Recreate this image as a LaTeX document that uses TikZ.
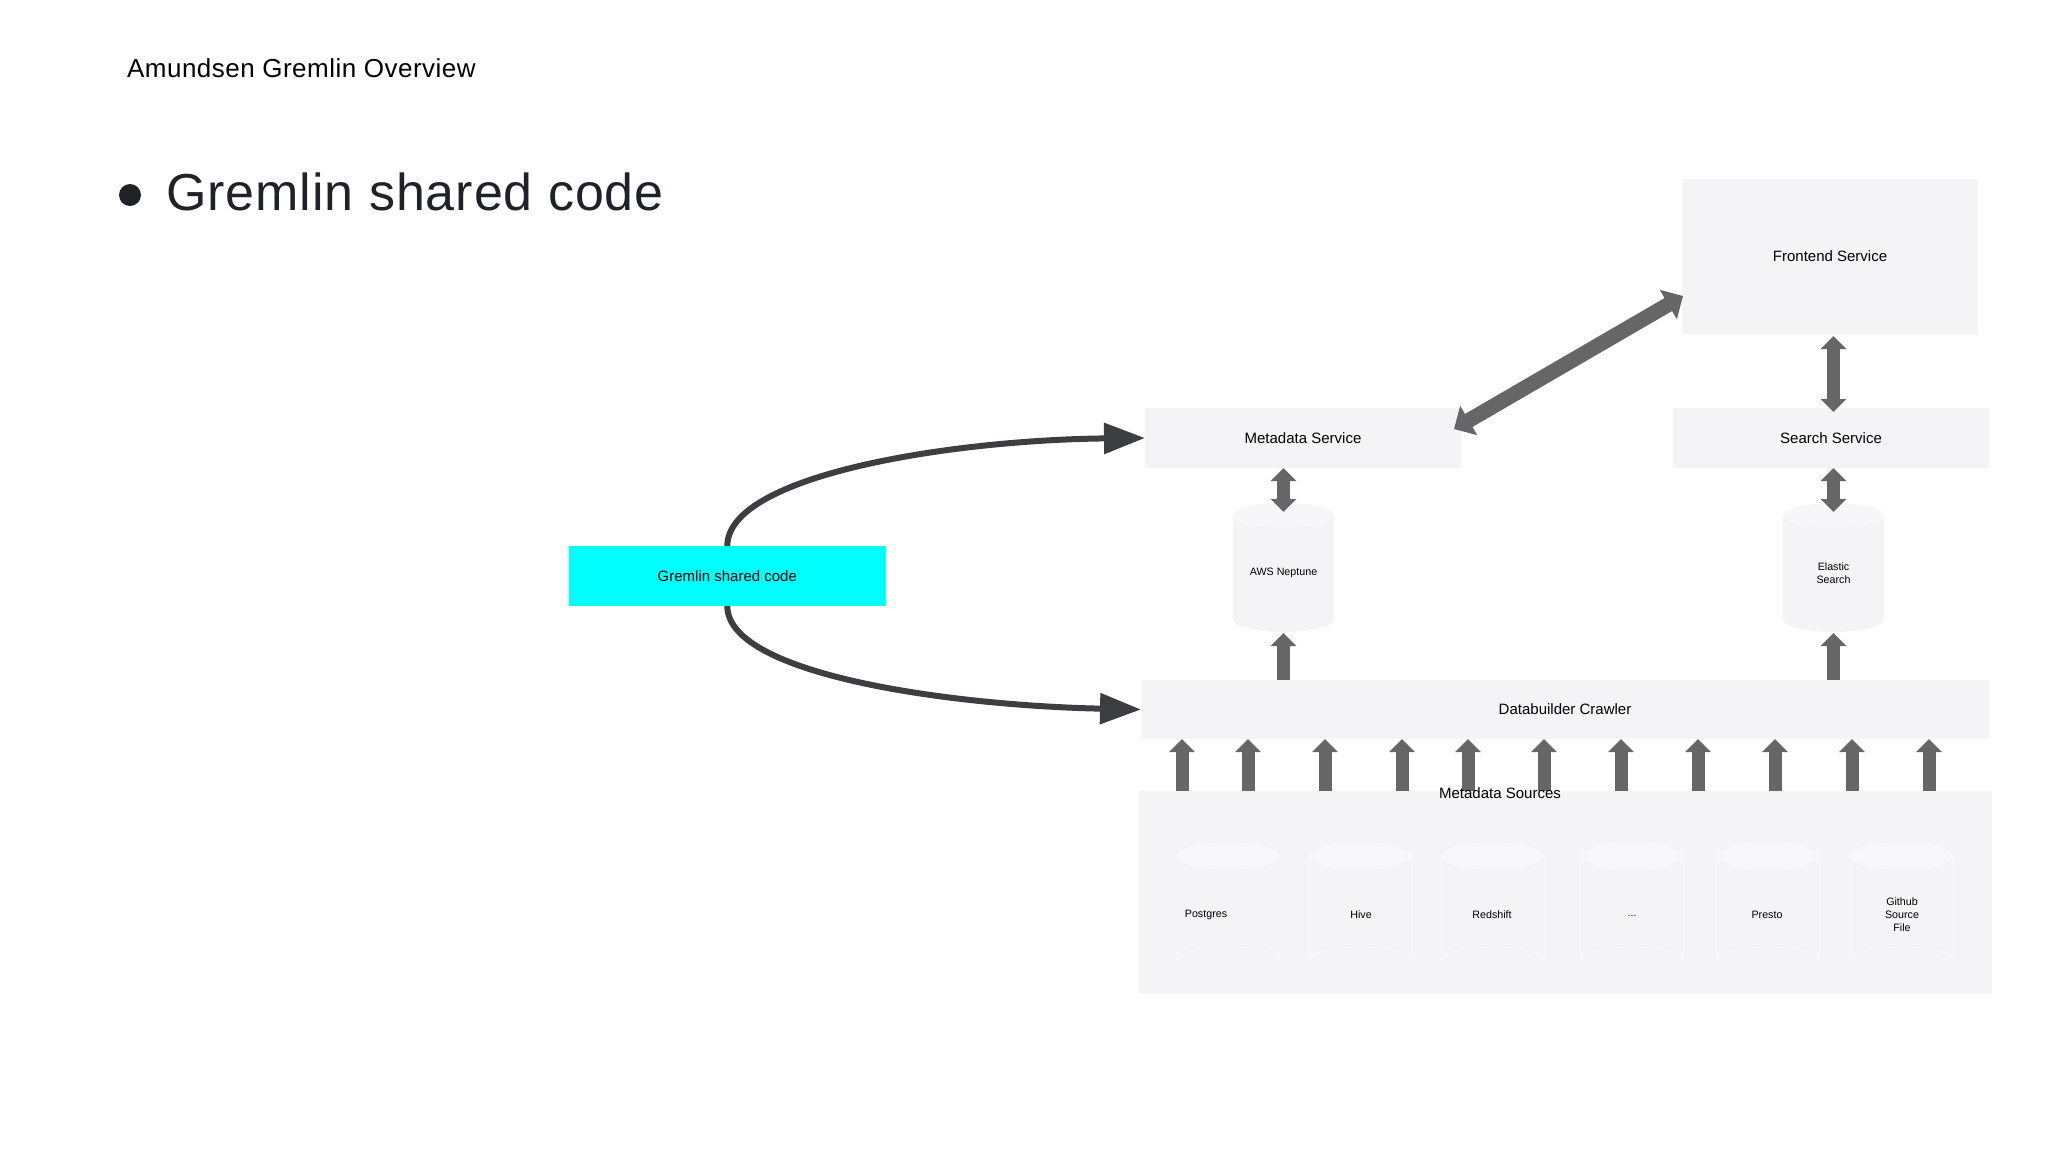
\documentclass[tikz,border=0pt]{standalone}
\usepackage{fontspec}
\setmainfont{Liberation Sans}
\newfontfamily\headfont[LetterSpace=1.8]{Liberation Sans}
\usetikzlibrary{shapes, arrows.meta}
\definecolor{boxgray}{HTML}{F4F4F6}
\definecolor{sourcegray}{HTML}{F4F3F6}
\definecolor{capgray}{HTML}{F8F7F9}
\definecolor{edgegray}{HTML}{F9F9FA}
\definecolor{arrowgray}{HTML}{666568}
\definecolor{curvegray}{HTML}{3D3E42}
\definecolor{inkblack}{HTML}{1F2328}
\definecolor{sharedcyan}{HTML}{00FFFF}
\newcommand{\labelsize}{\fontsize{15}{18}\selectfont}
\newcommand{\smallsize}{\fontsize{10.7}{13}\selectfont}

\begin{document}
\begin{tikzpicture}[x=1pt, y=-1pt, >={Triangle[length=13pt,width=25pt]}]

\tikzstyle{block} = [fill=boxgray, shape=rectangle, inner sep=0pt, outer sep=0pt, font=\labelsize]
\tikzstyle{store} = [block, minimum width=101pt, minimum height=104pt]
\tikzstyle{source} = [block, fill=sourcegray, minimum width=103pt, minimum height=105pt]
\tikzstyle{tag} = [font=\smallsize, align=center, inner sep=0pt]
\tikzstyle{curve} = [line width=6pt, color=curvegray, -{Triangle[length=41pt,width=30pt]}]

\useasboundingbox (0,0) rectangle (2048,1152);

\node [anchor=base west, inner sep=0pt, font=\headfont\fontsize{26}{30}\selectfont] at (127,77) (title) {Amundsen Gremlin Overview};
\node [fill=inkblack, shape=circle, minimum size=22pt, inner sep=0pt] at (130,195) (bullet) {};
\node [anchor=base west, inner sep=0pt, text=inkblack, font=\headfont\fontsize{52}{60}\selectfont] at (166,210) (heading) {Gremlin shared code};

\node [block, minimum width=296pt, minimum height=155pt] at (1830,256.5) (frontend) {Frontend Service};
\node [block, minimum width=316pt, minimum height=60pt] at (1303,438) (metadata) {Metadata Service};
\node [block, minimum width=316pt, minimum height=60pt] at (1831,438) (search) {Search Service};
\node [block, minimum width=848pt, minimum height=59pt] at (1565,709.5) (crawler) {Databuilder Crawler};
\node [block, minimum width=317pt, minimum height=60pt, fill=sharedcyan] at (727.3,576) (gremlin) {Gremlin shared code};
\node [block, fill=sourcegray, minimum width=853pt, minimum height=203pt] at (1565.5,892.5) (sources) {};

\foreach \name/\px in {neptune/1283.5, elastic/1833.5} {
     \node [store] at (\px,567.5) (\name) {};
     \fill[boxgray] (\name.south) ellipse (50.5 and 12.5);
     \fill[capgray!70!boxgray] (\name.north) ellipse (50.5 and 12.5);
}
\node [tag] at (1283.5,573) (neptunelabel) {AWS Neptune};
\node [tag] at (1833.5,573.5) (elasticlabel) {Elastic\\Search};

\foreach \name/\px in {postgres/1228.5, hive/1361, redshift/1493, dots/1632, presto/1768, github/1902} {
     \node [source] at (\px,908.5) (\name) {};
     \draw[edgegray, line width=0.8pt] (\name.north west) -- (\name.south west) arc (180:360:51.5 and 14) -- (\name.north east);
     \fill[capgray] (\name.north) ellipse (51.5 and 14);
}
\node [tag] at (1206,915) (postgreslabel) {Postgres};
\node [tag] at (1361,915) (hivelabel) {Hive};
\node [tag] at (1492,915) (redshiftlabel) {Redshift};
\node [tag] at (1632,916) (dotslabel) {...};
\node [tag] at (1767,915) (prestolabel) {Presto};
\node [tag] at (1902,915) (githublabel) {Github\\Source\\File};

\begin{scope}[line width=13pt, color=arrowgray]
     \draw[line width=15pt, {Triangle[length=17pt,width=33pt]}-{Triangle[length=17pt,width=33pt]}] ([xshift=-7pt,yshift=9pt]metadata.east) -- ([xshift=1pt,yshift=-39.5pt]frontend.west);
     \draw[<->] ([yshift=-4pt]search.north -| elastic) -- ([yshift=-2pt]frontend.south -| elastic);
     \draw[<->] (metadata.south -| neptune) -- ([yshift=3.5pt]neptune.north);
     \draw[<->] (search.south -| elastic) -- ([yshift=3.5pt]elastic.north);
     \draw[->] (crawler.north -| neptune) -- ([yshift=-13.5pt]neptune.south);
     \draw[->] (crawler.north -| elastic) -- ([yshift=-13.5pt]elastic.south);
     \foreach \x in {1182,1248,1325,1402,1468,1544,1621,1698,1775,1852,1929}
          \draw[->] (\x,0 |- sources.north) -- (\x,0 |- crawler.south);
\end{scope}

\draw[curve] (gremlin.north) .. controls +(0,-71) and +(-194,2) .. (metadata.west);
\draw[curve] (gremlin.south) .. controls +(0,69) and +(-190,-4) .. (crawler.west);

\node [font=\labelsize] at (1500,793) (sourcestitle) {Metadata Sources};
\end{tikzpicture}
\end{document}
